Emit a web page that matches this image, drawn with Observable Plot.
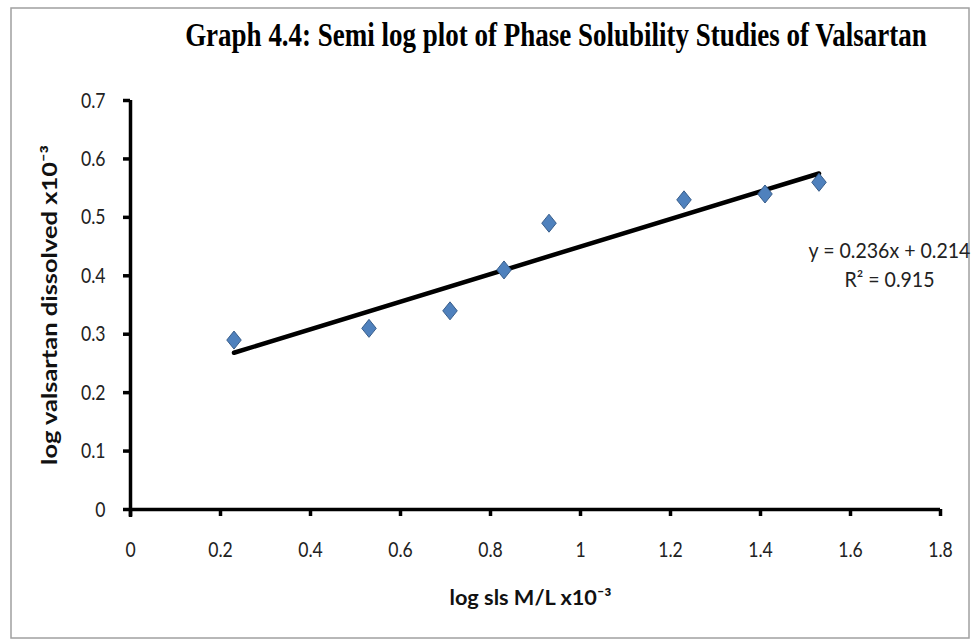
<!DOCTYPE html>
<html><head><meta charset="utf-8">
<script src="https://cdn.jsdelivr.net/npm/d3@7"></script>
<script src="https://cdn.jsdelivr.net/npm/@observablehq/plot@0.6"></script>
<style>body{margin:0;background:#fff}</style>
</head><body><div id="chart"></div>
<script>
const logSls = [0.23, 0.53, 0.71, 0.83, 0.93, 1.23, 1.41, 1.53];
const logValsartan = [0.29, 0.31, 0.34, 0.41, 0.49, 0.53, 0.54, 0.56];
const xTicks = [0, 0.2, 0.4, 0.6, 0.8, 1, 1.2, 1.4, 1.6, 1.8];
const yTicks = [0, 0.1, 0.2, 0.3, 0.4, 0.5, 0.6, 0.7];
const slope = 0.236, intercept = 0.214, rSquared = 0.915;
const title = "Graph 4.4: Semi log plot of Phase Solubility Studies of Valsartan";
const xLabel = "log sls M/L x10⁻³";
const yLabel = "log valsartan dissolved x10⁻³";

const points = logSls.map((x, i) => ({x, y: logValsartan[i]}));
const trend = d3.extent(logSls).map(x => ({x, y: slope * x + intercept}));
const eqText = `y = ${slope}x + ${intercept}\nR² = ${rSquared}`;

const diamond = {draw(ctx, size) {
  const s = Math.sqrt(size / Math.PI), h = s * 1.8, w = s * 1.45;
  ctx.moveTo(0, -h); ctx.lineTo(w, 0); ctx.lineTo(0, h); ctx.lineTo(-w, 0); ctx.closePath();
}};

const sans = "Lato, 'Open Sans', sans-serif";
const plot = Plot.plot({
  width: 973, height: 644,
  marginLeft: 130, marginRight: 33, marginTop: 100, marginBottom: 135,
  style: {background: "#fff", color: "#000"},
  x: {domain: [0, 1.8]},
  y: {domain: [0, 0.7]},
  marks: [
    Plot.axisX({ticks: xTicks, tickSize: 7, tickPadding: 25, strokeWidth: 3.5, fontSize: 22, fontFamily: sans, fill: "#222", tickFormat: d => String(d), label: null, className: "xt"}),
    Plot.axisY({ticks: yTicks, tickSize: 7, tickPadding: 18, strokeWidth: 3.5, fontSize: 22, fontFamily: sans, fill: "#222", tickFormat: d => String(d), label: null, className: "yt"}),
    Plot.ruleY([0], {stroke: "#000", strokeWidth: 3.5}),
    Plot.ruleX([0], {stroke: "#000", strokeWidth: 3.5, insetBottom: -8}),
    Plot.line(trend, {x: "x", y: "y", stroke: "#000", strokeWidth: 4.5}),
    Plot.dot(points, {x: "x", y: "y", symbol: diamond, r: 5, fill: "#4f81bd", stroke: "#385d8a", strokeWidth: 1}),
    Plot.text([eqText], {frameAnchor: "right", dx: -51, dy: -42, text: d => d, textAnchor: "middle", lineAnchor: "middle", lineHeight: 1.38, fontSize: 21, fontFamily: sans, fill: "#222", className: "eq"}),
    Plot.text([xLabel], {frameAnchor: "bottom", dx: -5, dy: 95, text: d => d, fontSize: 20, fontWeight: "bold", fontFamily: sans, fill: "#111", className: "xl"}),
    Plot.text([yLabel], {frameAnchor: "left", dx: -80, rotate: -90, text: d => d, textAnchor: "middle", fontSize: 20, fontWeight: "bold", fontFamily: sans, fill: "#111", className: "yl"})
  ]
});
const svg = d3.select(plot);
svg.insert("rect", ":first-child").attr("x", 11).attr("y", 8).attr("width", 958).attr("height", 630)
  .attr("fill", "#fff").attr("stroke", "#a0a0a0").attr("stroke-width", 1.5);
const titleEl = svg.append("text").attr("x", 556).attr("y", 46).attr("text-anchor", "middle")
  .attr("font-family", "'Liberation Serif', 'DejaVu Serif', serif").attr("font-weight", "bold")
  .attr("font-size", 33).attr("fill", "#000").text(title);
document.getElementById("chart").append(plot);

// horizontal font condensing, about each text's own anchor point
function squeeze(el, s) {
  const x = +el.getAttribute("x") || 0, y = +el.getAttribute("y") || 0;
  const t = el.getAttribute("transform") || "";
  el.setAttribute("transform", `${t} translate(${x},${y}) scale(${s},1) translate(${-x},${-y})`);
}
function fit(el, target) { squeeze(el, target / el.getBBox().width); }
fit(titleEl.node(), 742);
svg.selectAll(".xt text, .yt text").each(function() { squeeze(this, 0.8); });
svg.selectAll(".xl text").each(function() { fit(this, 162); });
svg.selectAll(".yl text").each(function() { fit(this, 320); });
svg.selectAll(".eq text").each(function() { fit(this, 162); });
</script></body></html>
